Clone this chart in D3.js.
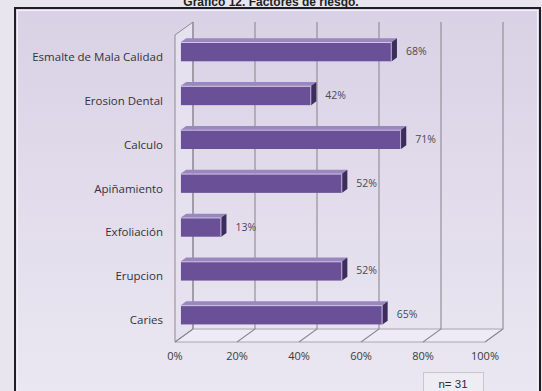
<!DOCTYPE html>
<html>
<head>
<meta charset="utf-8">
<script src="https://cdn.jsdelivr.net/npm/d3@7"></script>
<style>
  html, body { margin: 0; padding: 0; background: #e8e5ee; }
  svg { display: block; }
</style>
</head>
<body>
<svg id="chart" width="542" height="391"></svg>
<script>
// Risk factors (percent of patients), top to bottom
const categories = ["Esmalte de Mala Calidad", "Erosion Dental", "Calculo", "Apiñamiento", "Exfoliación", "Erupcion", "Caries"];
const values = [68, 42, 71, 52, 13, 52, 65];
const tickValues = [0, 20, 40, 60, 80, 100];
const tickLabels = ["0%", "20%", "40%", "60%", "80%", "100%"];
const titleText = "Grafico 12. Factores de riesgo.";
const sampleText = "n= 31";

const svg = d3.select("#chart");
const W = 542, H = 391;

// Gradient fill for the framed chart area
const defs = svg.append("defs");
const grad = defs.append("linearGradient").attr("id", "bg").attr("x1", 0).attr("y1", 0).attr("x2", 0).attr("y2", 1);
grad.append("stop").attr("offset", "0%").attr("stop-color", "#d9d1e5");
grad.append("stop").attr("offset", "100%").attr("stop-color", "#ebe8f2");

svg.append("rect").attr("width", W).attr("height", H).attr("fill", "#e8e5ee");
svg.append("rect").attr("x", 15).attr("y", 8).attr("width", 525).attr("height", 400)
  .attr("fill", "url(#bg)").attr("stroke", "#1e1e24").attr("stroke-width", 2);
svg.append("rect").attr("x", 17.5).attr("y", 10.5).attr("width", 520).attr("height", 395)
  .attr("fill", "none").attr("stroke", "#f4f2f8").attr("stroke-width", 1);

// Title (partly cut by the top edge)
svg.append("text").attr("x", 271).attr("y", 6).attr("text-anchor", "middle")
  .attr("font-family", "Liberation Sans, Arial, sans-serif").attr("font-weight", "bold")
  .attr("font-size", 12).attr("fill", "#222").text(titleText);

// Front-plane scales; depth is an oblique offset
const x = d3.scaleLinear().domain([0, 100]).range([175, 485]);
const y = d3.scaleBand().domain(categories).range([34, 341]).paddingInner(0.56).paddingOuter(0.28);
const yLab = d3.scaleBand().domain(categories).range([35, 342]);
const DX = 18, DY = -13;
const off = f => [DX * f, DY * f];

const floorFront = 342, floorBack = floorFront + DY, wallTop = 35;

const g = svg.append("g");
const gridColor = "#8d8a94";

// Floor
g.append("path")
  .attr("d", `M${x(0)},${floorFront} L${x(100)},${floorFront} L${x(100)+DX},${floorBack} L${x(0)+DX},${floorBack} Z`)
  .attr("fill", "#eeebf4").attr("stroke", "#a9a6b0").attr("stroke-width", 1);

// Left side wall
g.append("path")
  .attr("d", `M${x(0)},${wallTop} L${x(0)+DX},${wallTop+DY} L${x(0)+DX},${floorBack} L${x(0)},${floorFront} Z`)
  .attr("fill", "#e6e1ee").attr("stroke", gridColor).attr("stroke-width", 1);

// Gridlines on back wall and floor
tickValues.forEach(t => {
  const xb = x(t) + DX;
  g.append("path")
    .attr("d", `M${xb},${wallTop+DY} L${xb},${floorBack} L${x(t)},${floorFront}`)
    .attr("fill", "none").attr("stroke", gridColor).attr("stroke-width", 1.1);
});

// Tick labels
g.selectAll("text.tick").data(tickValues).join("text")
  .attr("class", "tick")
  .attr("x", d => x(d)).attr("y", 359.5).attr("text-anchor", "middle")
  .attr("font-family", "Open Sans, sans-serif").attr("font-size", 11).attr("fill", "#3a3a40")
  .text((d, i) => tickLabels[i]);

// Category labels
g.selectAll("text.cat").data(categories).join("text")
  .attr("class", "cat")
  .attr("x", 163).attr("y", d => yLab(d) + yLab.bandwidth() / 2 + 4).attr("text-anchor", "end")
  .attr("font-family", "Open Sans, sans-serif").attr("font-size", 11.5).attr("fill", "#33333a")
  .text(d => d);

// 3D bars
const f1 = 0.33, f2 = 0.62;
const [ox1, oy1] = off(f1);
const [ox2, oy2] = off(f2);
const bars = g.selectAll("g.bar").data(categories.map((c, i) => ({ c, v: values[i] }))).join("g").attr("class", "bar");

bars.each(function(d) {
  const b = d3.select(this);
  const x0 = x(0) + ox1, x1 = x(d.v) + ox1;
  const yt = y(d.c) + oy1, yb = y(d.c) + y.bandwidth() + oy1;
  const ddx = ox2 - ox1, ddy = oy2 - oy1;
  // top face
  b.append("path")
    .attr("d", `M${x0},${yt} L${x1},${yt} L${x1+ddx},${yt+ddy} L${x0+ddx},${yt+ddy} Z`)
    .attr("fill", "#9a86c0");
  // right face
  b.append("path")
    .attr("d", `M${x1},${yt} L${x1+ddx},${yt+ddy} L${x1+ddx},${yb+ddy} L${x1},${yb} Z`)
    .attr("fill", "#3d2d5c");
  // front face
  b.append("rect").attr("x", x0).attr("y", yt).attr("width", x1 - x0).attr("height", yb - yt)
    .attr("fill", "#6a5096");
  // highlight edge
  b.append("line").attr("x1", x0).attr("x2", x1).attr("y1", yt + 0.5).attr("y2", yt + 0.5)
    .attr("stroke", "#d3c8e8").attr("stroke-width", 1);
  b.append("line").attr("x1", x1 - 0.5).attr("x2", x1 - 0.5).attr("y1", yt).attr("y2", yb)
    .attr("stroke", "#b9aad6").attr("stroke-width", 1);
  // value label
  b.append("text").attr("x", x1 + ddx + 9).attr("y", (yt + yb) / 2 + 3.5)
    .attr("font-family", "Open Sans, sans-serif").attr("font-size", 10.5).attr("fill", "#4a4a50")
    .text(d.v + "%");
});

// Sample size box
svg.append("rect").attr("x", 423.5).attr("y", 372.5).attr("width", 60).attr("height", 30)
  .attr("fill", "#efedf4").attr("stroke", "#c9c6cf").attr("stroke-width", 1);
svg.append("text").attr("x", 453).attr("y", 388).attr("text-anchor", "middle")
  .attr("font-family", "Liberation Sans, Arial, sans-serif").attr("font-size", 11.5).attr("fill", "#2a2a30")
  .text(sampleText);
</script>
</body>
</html>
